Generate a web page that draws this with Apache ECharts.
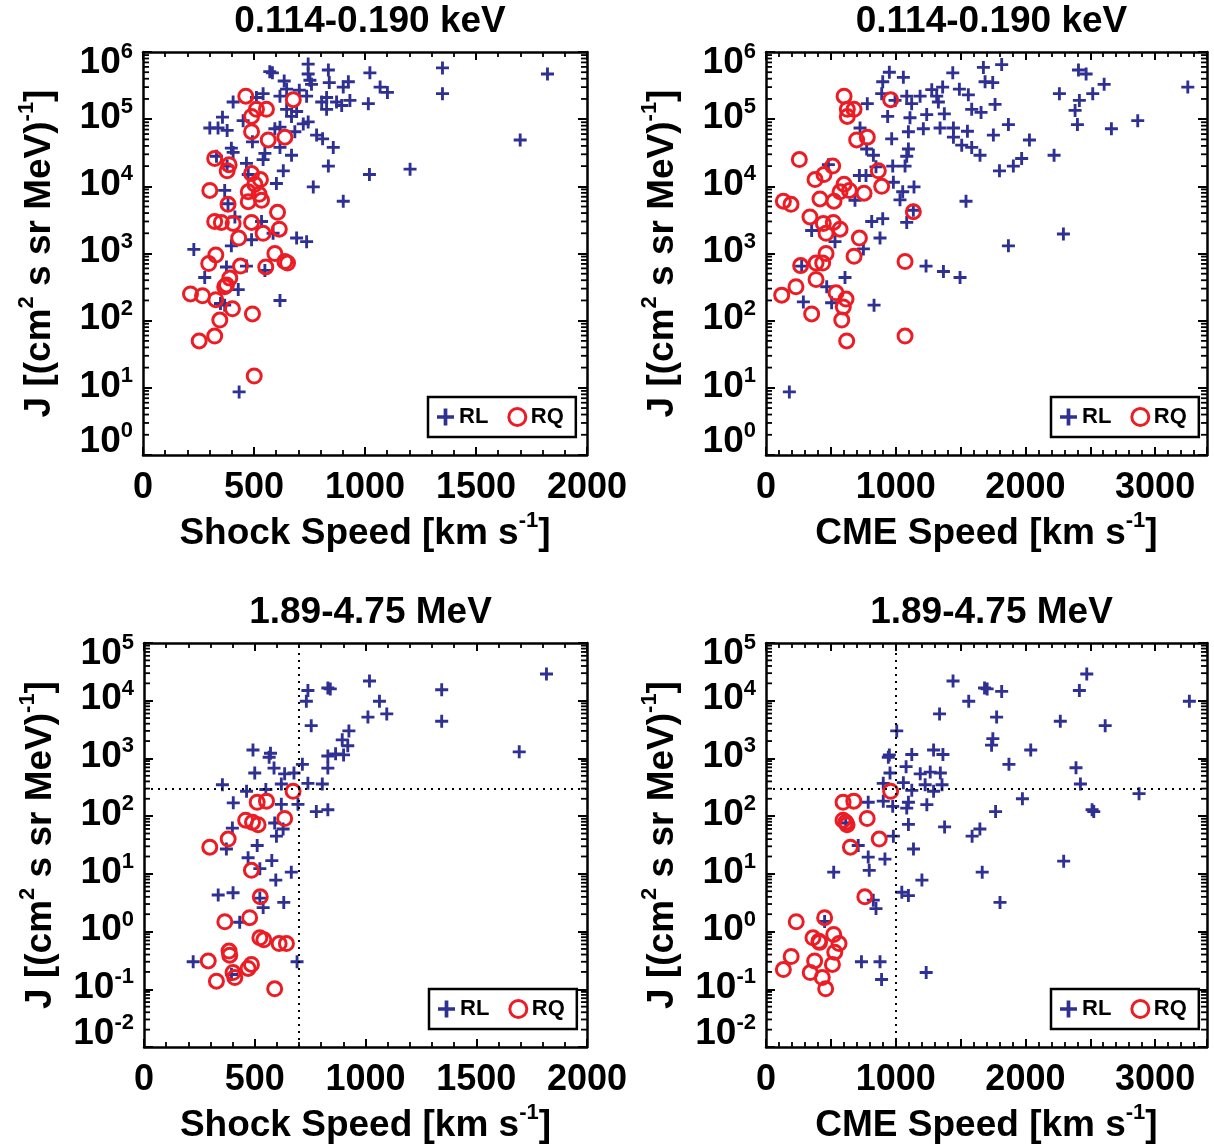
<!DOCTYPE html>
<html>
<head>
<meta charset="utf-8">
<script src="https://cdn.jsdelivr.net/npm/echarts@6/dist/echarts.min.js"></script>
<style>
html,body{margin:0;padding:0;background:#fff;}
#chart{width:1214px;height:1148px;}
</style>
</head>
<body>
<div id="chart"></div>
<script>
// ---------------- DATA ----------------
const panelTitles = ['0.114-0.190 keV', '0.114-0.190 keV', '1.89-4.75 MeV', '1.89-4.75 MeV'];
const xAxisTitles = ['Shock Speed', 'CME Speed', 'Shock Speed', 'CME Speed'];
const seriesNames = ['RL', 'RQ'];
const xMaxShock = 2000, xMaxCME = 3400;
const xLabelStepShock = 500, xLabelStepCME = 1000;
const yRangeLow = [1, 1e6];
const yRangeHigh = [1e-2, 1e5];
const thresholdShock = 700, thresholdCME = 1000, thresholdJ = 300;

// 0.114-0.190 keV vs shock speed
const lowShockRL = [
  [744,6.6e5],[835,5.4e5],[571,5.1e5],[583,4.9e5],[1022,4.9e5],[1349,5.8e5],[1822,4.7e5],[1349,2.4e5],
  [636,3.7e5],[752,3.8e5],[839,3.5e5],[925,3.6e5],[902,3.0e5],[1068,3.0e5],[1101,2.5e5],[744,4.7e5],
  [759,3.3e5],[647,2.8e5],[704,2.7e5],[737,2.2e5],[617,2.2e5],[541,2.4e5],[511,2.1e5],[406,1.8e5],
  [827,2.1e5],[805,1.8e5],[872,1.8e5],[932,1.9e5],[895,1.6e5],[1015,1.7e5],[827,1.4e5],[647,1.4e5],
  [692,1.3e5],[669,1.1e5],[358,1.07e5],[451,9.5e4],[301,7.4e4],[338,7.4e4],[379,6.8e4],[722,8.5e4],
  [744,9.1e4],[594,7.2e4],[617,7.6e4],[684,6.5e4],[782,5.8e4],[809,5.1e4],[857,3.8e4],[617,3.8e4],
  [493,4.6e4],[398,3.7e4],[406,3.2e4],[549,3.1e4],[669,2.9e4],[541,2.5e4],[331,2.8e4],[379,2.0e4],
  [466,2.2e4],[835,2.0e4],[1020,1.5e4],[1203,1.8e4],[1699,4.9e4],[632,1.7e4],[601,1.1e4],[767,9.8e3],
  [902,6.0e3],[368,8.7e3],[383,5.5e3],[474,1.5e4],[414,3.5e3],[534,3.0e3],[489,1.6e3],[692,1.7e3],
  [737,1.5e3],[398,1.3e3],[586,2.0e3],[229,1.15e3],[376,630],[466,650],[549,560],[278,440],
  [429,290],[368,170],[617,200],[433,8.7],[349,180]
];
const lowShockRQ = [
  [463,2.2e5],[677,1.95e5],[511,1.4e5],[556,1.4e5],[489,1.1e5],[489,6.5e4],[564,4.9e4],[639,5.4e4],
  [323,2.6e4],[388,2.1e4],[379,1.7e4],[489,1.55e4],[529,1.26e4],[504,1.07e4],[474,8.3e3],[523,7.6e3],
  [534,6.2e3],[474,5.9e3],[301,8.7e3],[383,5.4e3],[606,4.1e3],[323,3.0e3],[353,2.9e3],[406,2.8e3],
  [489,2.9e3],[541,2.0e3],[614,2.3e3],[431,1.7e3],[328,950],[296,710],[439,650],[553,630],
  [594,1.0e3],[639,760],[651,720],[391,430],[376,340],[368,320],[214,250],[268,235],
  [328,205],[403,150],[493,126],[346,102],[253,50],[323,59],[501,15]
];

// 0.114-0.190 keV vs CME speed
const lowCmeRL = [
  [1817,6.5e5],[1676,5.9e5],[1440,4.9e5],[951,5.0e5],[1059,4.2e5],[900,3.6e5],[2409,5.4e5],[2468,4.7e5],
  [2607,3.3e5],[3252,3.0e5],[2519,2.4e5],[2262,2.4e5],[2416,1.9e5],[2383,1.35e5],[2401,8.3e4],[2663,7.2e4],
  [2866,9.5e4],[1689,3.6e5],[1748,3.5e5],[1491,2.8e5],[1560,2.3e5],[1278,2.75e5],[1362,3.0e5],[1316,2.2e5],
  [1329,1.8e5],[1188,2.2e5],[1085,2.2e5],[1123,1.7e5],[995,1.9e5],[781,1.7e5],[892,2.4e5],[1586,1.4e5],
  [1658,1.26e5],[1766,1.66e5],[1375,1.2e5],[1239,1.17e5],[1110,1.05e5],[938,1.1e5],[1869,8.3e4],[1213,7.2e4],
  [1342,7.4e4],[1445,7.4e4],[1553,6.6e4],[1753,5.8e4],[2031,4.9e4],[1445,5.4e4],[1509,4.1e4],[1586,3.8e4],
  [1650,2.9e4],[1098,6.5e4],[969,5.1e4],[1098,3.6e4],[725,7.4e4],[776,3.6e4],[828,2.9e4],[1085,2.8e4],
  [977,2.0e4],[1072,2.0e4],[848,1.95e4],[720,1.45e4],[771,1.45e4],[982,1.15e4],[1054,8.3e3],[1141,9.8e3],
  [1033,6.3e3],[1800,1.7e4],[1907,2.0e4],[1971,2.6e4],[2221,2.9e4],[1542,6.0e3],[481,2.1e4],[686,6.2e3],
  [1136,4.4e3],[815,3.0e3],[900,3.3e3],[1085,2.9e3],[879,1.7e3],[751,1.17e3],[532,1.5e3],[352,2.2e3],
  [2293,1.95e3],[1869,1.3e3],[1234,650],[1368,540],[1496,440],[275,650],[609,440],[468,320],
  [288,190],[506,185],[833,170],[180,8.7]
];
const lowCmeRQ = [
  [602,2.2e5],[961,1.95e5],[627,1.4e5],[679,1.4e5],[627,1.1e5],[699,4.9e4],[781,5.4e4],[257,2.5e4],
  [514,2.0e4],[447,1.5e4],[378,1.26e4],[866,1.7e4],[602,1.07e4],[571,8.3e3],[643,8.7e3],[756,7.9e3],
  [892,1.0e4],[416,6.5e3],[524,6.0e3],[134,6.0e3],[193,5.4e3],[339,3.5e3],[1136,4.2e3],[442,2.8e3],
  [519,2.9e3],[571,2.3e3],[463,2.0e3],[720,1.7e3],[463,1.0e3],[679,910],[1072,760],[267,660],
  [386,720],[437,720],[386,410],[231,320],[121,240],[540,260],[617,210],[596,160],
  [352,126],[584,102],[1072,59],[622,50]
];

// 1.89-4.75 MeV vs shock speed
const highShockRL = [
  [1817,2.9e4],[1018,2.2e4],[830,1.66e4],[841,1.6e4],[740,1.5e4],[1344,1.55e4],[733,9.8e3],[1063,9.8e3],
  [1011,5.2e3],[1096,5.9e3],[1344,4.4e3],[755,3.7e3],[925,3.0e3],[895,2.1e3],[920,1.66e3],[1694,1.3e3],
  [830,1.1e3],[865,1.2e3],[901,1.15e3],[830,680],[492,1.4e3],[571,1.23e3],[565,1.05e3],[587,680],
  [500,560],[715,790],[635,540],[677,560],[354,350],[463,270],[550,290],[620,360],
  [740,370],[805,360],[403,170],[620,160],[695,160],[778,120],[830,129],[399,62],
  [590,76],[628,60],[598,45],[511,31],[372,27],[470,19],[577,17],[665,10.7],
  [523,12.3],[595,7.8],[335,4.3],[402,4.7],[523,3.8],[538,2.6],[631,3.2],[432,1.45],
  [222,0.30],[691,0.30],[395,0.18]
];
const highShockRQ = [
  [673,270],[511,174],[553,182],[635,91],[459,85],[490,78],[515,71],[380,40],
  [297,29],[485,11.5],[525,4.0],[365,1.48],[477,1.74],[523,0.78],[541,0.72],[610,0.62],
  [643,0.62],[384,0.46],[387,0.39],[290,0.31],[485,0.27],[470,0.23],[402,0.195],[410,0.16],
  [327,0.138],[590,0.102]
];

// 1.89-4.75 MeV vs CME speed
const highCmeRL = [
  [2473,2.9e4],[2416,1.5e4],[1442,2.2e4],[1685,1.66e4],[1705,1.6e4],[1817,1.45e4],[1563,9.8e3],[3264,9.8e3],
  [1338,5.9e3],[1778,5.2e3],[2269,4.4e3],[2615,3.7e3],[1008,3.0e3],[1749,2.2e3],[1739,1.7e3],[2041,1.4e3],
  [1292,1.4e3],[1364,1.17e3],[951,1.15e3],[943,1.05e3],[1124,1.17e3],[1873,790],[2390,690],[1080,720],
  [956,560],[1189,540],[1266,580],[1344,560],[904,370],[1059,380],[2424,360],[1227,350],
  [1357,350],[1292,270],[1124,280],[2876,245],[1977,200],[788,174],[904,182],[977,148],
  [1085,138],[1240,158],[1098,174],[1770,120],[2527,120],[2514,129],[1098,72],[1377,65],
  [1649,60],[1589,45],[615,76],[982,45],[711,31],[1137,27],[788,19.5],[917,18],
  [522,10.7],[796,11.5],[2295,16.6],[1667,10.7],[1202,7.8],[1047,4.8],[1098,4.2],[1804,3.2],
  [827,3.5],[848,2.5],[452,1.5],[736,0.30],[879,0.30],[891,0.148],[1235,0.195]
];
const highCmeRQ = [
  [961,270],[594,174],[677,182],[780,91],[594,85],[615,78],[625,71],[873,40],
  [651,29],[762,4.0],[452,1.74],[233,1.48],[362,0.78],[408,0.68],[522,0.89],[563,0.62],
  [413,0.65],[530,0.44],[194,0.37],[375,0.31],[512,0.27],[134,0.22],[341,0.195],[434,0.16],
  [460,0.102]
];

// ---------------- STYLE / LAYOUT ----------------
const FONT = '"Liberation Sans", Arial, Helvetica, sans-serif';
const BLUE = '#2E3192';
const RED = '#ED1C24';
const PLUS = 'path://M3.9,0H6.1V3.9H10V6.1H6.1V10H3.9V6.1H0V3.9H3.9Z';

const panels = [
  {grid:{left:143, top:52, width:444, height:403}, rl:lowShockRL, rq:lowShockRQ, xMax:xMaxShock, xStep:xLabelStepShock, yr:yRangeLow, thr:null},
  {grid:{left:766, top:52, width:441, height:403}, rl:lowCmeRL, rq:lowCmeRQ, xMax:xMaxCME, xStep:xLabelStepCME, yr:yRangeLow, thr:null},
  {grid:{left:144, top:643, width:443, height:404}, rl:highShockRL, rq:highShockRQ, xMax:xMaxShock, xStep:xLabelStepShock, yr:yRangeHigh, thr:thresholdShock},
  {grid:{left:766, top:643, width:441, height:404}, rl:highCmeRL, rq:highCmeRQ, xMax:xMaxCME, xStep:xLabelStepCME, yr:yRangeHigh, thr:thresholdCME}
];

const tb = {fontWeight:'bold', fontFamily:FONT, color:'#000'};
const richY = {
  b:Object.assign({fontSize:37, verticalAlign:'bottom', lineHeight:40}, tb),
  s:Object.assign({fontSize:22, verticalAlign:'top', lineHeight:28}, tb),
  bt:Object.assign({fontSize:37, verticalAlign:'bottom', lineHeight:64}, tb),
  st:Object.assign({fontSize:22, verticalAlign:'top', lineHeight:28, padding:[24,0,0,0]}, tb),
  bb:Object.assign({fontSize:37, verticalAlign:'top', lineHeight:64, padding:[3,0,0,0]}, tb),
  sb:Object.assign({fontSize:22, verticalAlign:'top', lineHeight:28}, tb)
};
const richName = {
  m:Object.assign({fontSize:37, verticalAlign:'bottom', lineHeight:42}, tb),
  s:Object.assign({fontSize:22, verticalAlign:'top', lineHeight:30}, tb)
};

const option = {
  animation:false,
  backgroundColor:'#fff',
  title:[], grid:[], xAxis:[], yAxis:[], series:[], legend:[]
};

panels.forEach((p, i) => {
  const g = p.grid;
  option.grid.push({left:g.left, top:g.top, width:g.width, height:g.height, outerBoundsMode:'none', containLabel:false});
  option.title.push({
    text:panelTitles[i], left:g.left + g.width/2, top:g.top - 54, textAlign:'center',
    textStyle:{fontSize:37, fontWeight:'bold', fontFamily:FONT, color:'#000'}
  });
  const lo = Math.round(Math.log10(p.yr[0])), hi = Math.round(Math.log10(p.yr[1]));
  const baseX = {
    type:'value', gridIndex:i, min:0, max:p.xMax, interval:500,
    axisLine:{show:true, onZero:false, lineStyle:{color:'#000', width:2.5}},
    axisTick:{show:true, inside:true, length:8, lineStyle:{color:'#000', width:2}},
    minorTick:{show:true, splitNumber:5, length:5, lineStyle:{color:'#000', width:1.8}},
    splitLine:{show:false}, minorSplitLine:{show:false}
  };
  option.xAxis.push(Object.assign({}, baseX, {
    position:'bottom',
    name:'{m|' + xAxisTitles[i] + ' [km s}{s|-1}{m|]}',
    nameLocation:'middle', nameGap:55,
    nameTextStyle:{rich:richName},
    axisLabel:{show:true, margin:15, fontSize:36, fontWeight:'bold', fontFamily:FONT, color:'#000',
      showMinLabel:true, showMaxLabel:true, hideOverlap:false,
      formatter:(v) => (Math.abs(v % p.xStep) < 1e-6 ? String(v) : '')}
  }));
  option.xAxis.push(Object.assign({}, baseX, {position:'top', axisLabel:{show:false}}));
  const baseY = {
    type:'log', logBase:10, gridIndex:i, min:p.yr[0], max:p.yr[1],
    axisLine:{show:true, onZero:false, lineStyle:{color:'#000', width:2.5}},
    axisTick:{show:true, inside:true, length:9, lineStyle:{color:'#000', width:2}},
    minorTick:{show:false}, splitLine:{show:false}
  };
  option.yAxis.push(Object.assign({}, baseY, {
    position:'left',
    name:'{m|J [(cm}{s|2}{m| s sr MeV)}{s|-1}{m|]}',
    nameLocation:'middle', nameGap:85, nameRotate:90,
    nameTextStyle:{rich:richName},
    axisLabel:{show:true, margin:10, padding:[0,0,6,0], showMinLabel:true, showMaxLabel:true,
      hideOverlap:false, rich:richY,
      formatter:(v) => {
        const e = Math.round(Math.log10(v));
        if (e === hi) return '{bt|10}{st|' + e + '}';
        if (e === lo) return '{bb|10}{sb|' + e + '}';
        return '{b|10}{s|' + e + '}';
      }}
  }));
  option.yAxis.push(Object.assign({}, baseY, {position:'right', axisLabel:{show:false}}));

  // minor log ticks (2..9 x 10^k), placed through the axis scale on both vertical edges
  const minorL = [], minorR = [];
  for (let e = lo; e < hi; e++) for (let m = 2; m <= 9; m++) {
    minorL.push([0, m * Math.pow(10, e)]);
    minorR.push([p.xMax, m * Math.pow(10, e)]);
  }
  const tickSeries = (data, off) => ({
    type:'scatter', name:'minorTicks', xAxisIndex:2*i, yAxisIndex:2*i, data:data,
    symbol:'rect', symbolSize:[6, 1.8], symbolOffset:[off, 0], silent:true, clip:false,
    itemStyle:{color:'#000', opacity:1}, z:5, emphasis:{disabled:true}, tooltip:{show:false}
  });
  option.series.push(tickSeries(minorL, 3));
  option.series.push(tickSeries(minorR, -3));

  const rl = {
    type:'scatter', name:seriesNames[0], xAxisIndex:2*i, yAxisIndex:2*i, data:p.rl,
    symbol:PLUS, symbolSize:13, itemStyle:{color:BLUE, opacity:1}, z:3
  };
  if (p.thr !== null) {
    rl.markLine = {
      silent:true, symbol:['none','none'], label:{show:false},
      lineStyle:{type:[2,5], color:'#000', width:2},
      data:[{xAxis:p.thr}, {yAxis:thresholdJ}]
    };
  }
  option.series.push(rl);
  option.series.push({
    type:'scatter', name:seriesNames[1], xAxisIndex:2*i, yAxisIndex:2*i, data:p.rq,
    symbol:'circle', symbolSize:14,
    itemStyle:{color:'rgba(0,0,0,0)', borderColor:RED, borderWidth:3, opacity:1}, z:4
  });

  option.legend.push({
    left:g.left + 285, top:g.top + g.height - 58,
    orient:'horizontal', selectedMode:false,
    borderColor:'#000', borderWidth:2.5, borderRadius:0, backgroundColor:'#fff',
    padding:[9,12,9,9], itemGap:19, itemWidth:17, itemHeight:17,
    textStyle:{fontSize:22, fontWeight:'bold', fontFamily:FONT, color:'#000'},
    data:[
      {name:seriesNames[0], icon:PLUS, itemStyle:{color:BLUE, borderWidth:0}},
      {name:seriesNames[1], icon:'circle', itemStyle:{color:'rgba(0,0,0,0)', borderColor:RED, borderWidth:3}}
    ]
  });
});

const chart = echarts.init(document.getElementById('chart'), null, {renderer:'canvas'});
chart.setOption(option);
</script>
</body>
</html>
